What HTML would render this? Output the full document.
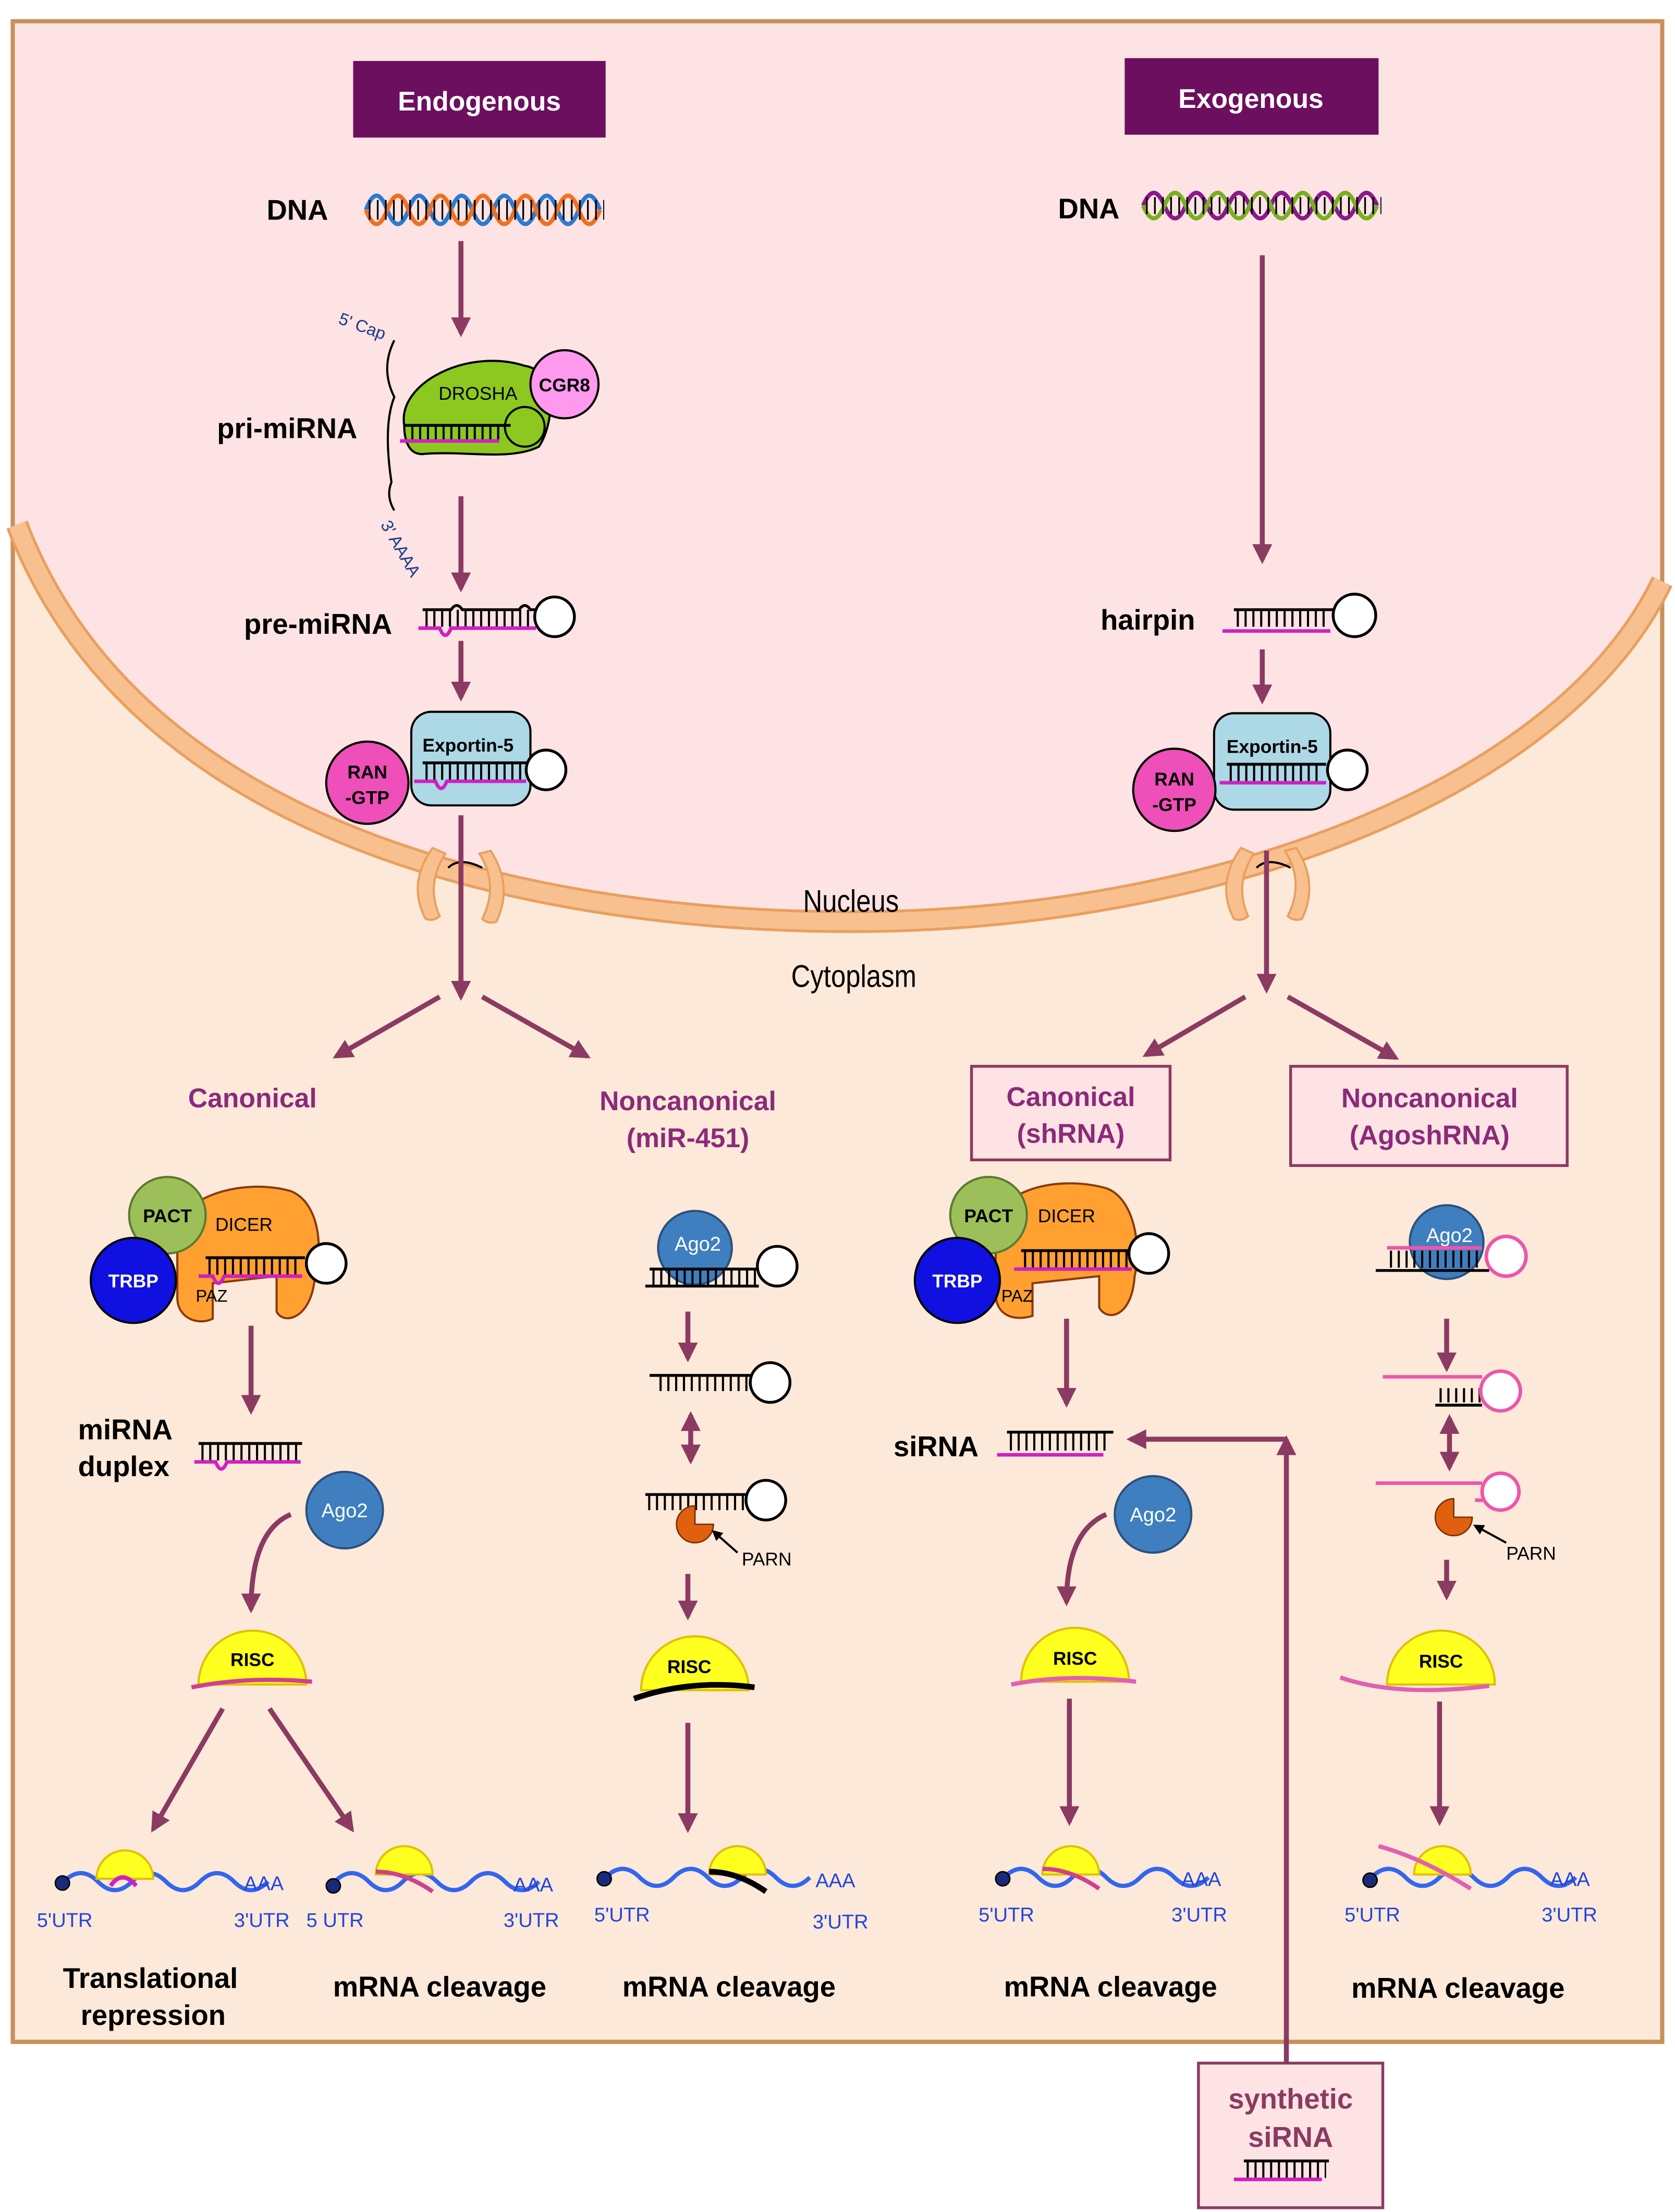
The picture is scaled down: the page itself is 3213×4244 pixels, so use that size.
<!DOCTYPE html>
<html><head><meta charset="utf-8"><style>
html,body{margin:0;padding:0;background:#fff}
svg{display:block}
text{font-family:"Liberation Sans",sans-serif}
</style></head><body>
<svg width="3213" height="4244" viewBox="0 0 1181 1560" xmlns="http://www.w3.org/2000/svg">
<defs>
<marker id="ah" viewBox="0 0 10 10" refX="8" refY="5" markerWidth="4" markerHeight="4" orient="auto-start-reverse"><path d="M0,0 L10,5 L0,10 z" fill="#8b3a62"/></marker>
<marker id="ahk" viewBox="0 0 10 10" refX="8" refY="5" markerWidth="5" markerHeight="5" orient="auto"><path d="M0,0 L10,5 L0,10 z" fill="#000"/></marker>
</defs>
<rect width="1181" height="1560" fill="#fff"/>
<rect x="9" y="15" width="1163" height="1425" fill="#fde9d9" stroke="#c8915a" stroke-width="3"/>
<path d="M10.5,16.5 H1170.5 V410 C1100,560 850,650 600,650 C400,650 100,600 10.5,370 Z" fill="#fde3e3"/>
<path d="M12,370 C100,600 400,650 600,650 C850,650 1100,560 1172,410" fill="none" stroke="#e8a060" stroke-width="16"/>
<path d="M12,370 C100,600 400,650 600,650 C850,650 1100,560 1172,410" fill="none" stroke="#f9c08f" stroke-width="12"/>
<g fill="#f9c08f" stroke="#e8a060" stroke-width="1.5">
<path d="M305,598 q-18,25 -5,50 q6,2 10,-2 q-10,-22 4,-44 z"/>
<path d="M338,602 q14,22 2,46 q4,4 10,2 q12,-25 -4,-50 z"/>
<path d="M875,598 q-18,25 -5,50 q6,2 10,-2 q-10,-22 4,-44 z"/>
<path d="M906,600 q14,22 2,46 q4,4 10,2 q12,-25 -4,-50 z"/>
</g>
<path d="M316,612 q8,-8 24,0 M886,612 q8,-8 24,0" stroke="#000" fill="none" stroke-width="1.5"/>
<text x="600" y="643" font-size="22" text-anchor="middle" transform="translate(600,0) scale(0.85,1) translate(-600,0)">Nucleus</text>
<text x="602" y="696" font-size="22" text-anchor="middle" transform="translate(602,0) scale(0.85,1) translate(-602,0)">Cytoplasm</text>

<rect x="249" y="43" width="178" height="54" fill="#6b0f5e"/>
<text x="338" y="78" font-size="19" font-weight="bold" fill="#fff" text-anchor="middle">Endogenous</text>
<rect x="793" y="41" width="179" height="54" fill="#6b0f5e"/>
<text x="882" y="76" font-size="19" font-weight="bold" fill="#fff" text-anchor="middle">Exogenous</text>

<text x="188" y="155" font-size="20" font-weight="bold">DNA</text>
<text x="746" y="154" font-size="20" font-weight="bold">DNA</text>
<path d="M258,148 q7.5,-20 15,0 t15,0 t15,0 t15,0 t15,0 t15,0 t15,0 t15,0 t15,0 t15,0 t15,0" fill="none" stroke="#2b7bd0" stroke-width="3"/>
<path d="M258,148 q7.5,20 15,0 t15,0 t15,0 t15,0 t15,0 t15,0 t15,0 t15,0 t15,0 t15,0 t15,0" fill="none" stroke="#f07020" stroke-width="3"/>
<line x1="260" y1="148" x2="426" y2="148" stroke="#000" stroke-width="14" stroke-dasharray="1.2 4.5"/>
<path d="M806,145 q7.5,-18 15,0 t15,0 t15,0 t15,0 t15,0 t15,0 t15,0 t15,0 t15,0 t15,0 t15,0" fill="none" stroke="#8a1a8a" stroke-width="3"/>
<path d="M806,145 q7.5,18 15,0 t15,0 t15,0 t15,0 t15,0 t15,0 t15,0 t15,0 t15,0 t15,0 t15,0" fill="none" stroke="#7ab020" stroke-width="3"/>
<line x1="808" y1="145" x2="974" y2="145" stroke="#000" stroke-width="12" stroke-dasharray="1.2 4.5"/>

<g stroke="#8b3a62" stroke-width="3.5" fill="none" marker-end="url(#ah)">
<line x1="325" y1="170" x2="325" y2="235"/>
<line x1="325" y1="350" x2="325" y2="415"/>
<line x1="325" y1="452" x2="325" y2="492"/>
<line x1="325" y1="575" x2="325" y2="703"/>
<line x1="310" y1="703" x2="237" y2="745"/>
<line x1="340" y1="703" x2="414" y2="745"/>
<line x1="890" y1="180" x2="890" y2="395"/>
<line x1="890" y1="458" x2="890" y2="494"/>
<line x1="893" y1="600" x2="893" y2="698"/>
<line x1="878" y1="703" x2="808" y2="744"/>
<line x1="908" y1="703" x2="984" y2="746"/>
<line x1="177" y1="935" x2="177" y2="995"/>
<path d="M205,1068 Q177,1080 177,1135"/>
<line x1="157" y1="1205" x2="108" y2="1290"/>
<line x1="190" y1="1205" x2="248" y2="1290"/>
<line x1="485" y1="925" x2="485" y2="958"/>
<line x1="485" y1="1110" x2="485" y2="1140"/>
<line x1="485" y1="1215" x2="485" y2="1290"/>
<line x1="752" y1="930" x2="752" y2="990"/>
<path d="M780,1068 Q752,1080 752,1130"/>
<line x1="754" y1="1198" x2="754" y2="1285"/>
<line x1="1020" y1="930" x2="1020" y2="965"/>
<line x1="1020" y1="1100" x2="1020" y2="1126"/>
<line x1="1015" y1="1200" x2="1015" y2="1285"/>
<line x1="907" y1="1460" x2="907" y2="1015"/>
<polyline points="907,1015 797,1015"/>
</g>
<g stroke="#8b3a62" stroke-width="3.5" marker-start="url(#ah)" marker-end="url(#ah)">
<line x1="487" y1="998" x2="487" y2="1030"/>
<line x1="1022" y1="1000" x2="1022" y2="1035"/>
</g>

<text x="153" y="309" font-size="20" font-weight="bold">pri-miRNA</text>
<text x="238" y="228" font-size="12" fill="#1a3a8a" transform="rotate(20 238 228)">5' Cap</text>
<text x="268" y="370" font-size="12" fill="#1a3a8a" transform="rotate(60 268 370)">3' AAAA</text>
<path d="M278,240 q-10,20 0,40 q-8,20 -2,60 q-4,10 2,20" fill="none" stroke="#000" stroke-width="1.5"/>
<path d="M285,300 C280,270 330,245 370,258 C395,262 390,300 380,315 C360,325 330,318 300,320 C288,322 285,310 285,300 Z" fill="#8cc820" stroke="#000" stroke-width="1.5"/>
<circle cx="370" cy="301" r="14" fill="#8cc820" stroke="#000" stroke-width="1.5"/>
<text x="337" y="282" font-size="13" text-anchor="middle">DROSHA</text>
<circle cx="398" cy="271" r="24" fill="#ff99ee" stroke="#000" stroke-width="1.5"/>
<text x="398" y="276" font-size="13" font-weight="bold" text-anchor="middle">CGR8</text>
<line x1="285" y1="300" x2="360" y2="300" stroke="#000" stroke-width="2"/>
<line x1="290" y1="305" x2="355" y2="305" stroke="#000" stroke-width="10" stroke-dasharray="1.5 4"/>
<line x1="282" y1="311" x2="352" y2="311" stroke="#d020c0" stroke-width="2.5"/>

<text x="172" y="447" font-size="20" font-weight="bold">pre-miRNA</text>
<path d="M298,430 h20 q4,-6 8,0 h40 q4,-6 8,0 h4" fill="none" stroke="#000" stroke-width="2"/>
<line x1="300" y1="436" x2="376" y2="436" stroke="#000" stroke-width="12" stroke-dasharray="1.5 4"/>
<path d="M295,443 h15 q4,10 8,0 h60" fill="none" stroke="#d020c0" stroke-width="2.5"/>
<circle cx="391" cy="435" r="14" fill="#fff" stroke="#000" stroke-width="2"/>
<text x="776" y="444" font-size="20" font-weight="bold">hairpin</text>
<line x1="870" y1="430" x2="940" y2="430" stroke="#000" stroke-width="2"/>
<line x1="872" y1="436" x2="938" y2="436" stroke="#000" stroke-width="12" stroke-dasharray="1.5 4"/>
<line x1="862" y1="445" x2="938" y2="445" stroke="#d020c0" stroke-width="2.5"/>
<circle cx="955" cy="434" r="15" fill="#fff" stroke="#000" stroke-width="2"/>

<rect x="290" y="502" width="84" height="66" rx="14" fill="#add8e6" stroke="#000" stroke-width="1.5"/>
<text x="330" y="530" font-size="13" font-weight="bold" text-anchor="middle">Exportin-5</text>
<circle cx="259" cy="552" r="29" fill="#ee4fb8" stroke="#000" stroke-width="1.5"/>
<text x="259" y="549" font-size="13" font-weight="bold" text-anchor="middle">RAN</text>
<text x="259" y="567" font-size="13" font-weight="bold" text-anchor="middle">-GTP</text>
<line x1="298" y1="538" x2="372" y2="538" stroke="#000" stroke-width="2"/>
<line x1="300" y1="544" x2="370" y2="544" stroke="#000" stroke-width="12" stroke-dasharray="1.5 4"/>
<path d="M292,551 h15 q4,10 8,0 h56" fill="none" stroke="#d020c0" stroke-width="2.5"/>
<circle cx="385" cy="543" r="14" fill="#fff" stroke="#000" stroke-width="2"/>
<rect x="856" y="503" width="82" height="68" rx="14" fill="#add8e6" stroke="#000" stroke-width="1.5"/>
<text x="897" y="531" font-size="13" font-weight="bold" text-anchor="middle">Exportin-5</text>
<circle cx="828" cy="557" r="29" fill="#ee4fb8" stroke="#000" stroke-width="1.5"/>
<text x="828" y="554" font-size="13" font-weight="bold" text-anchor="middle">RAN</text>
<text x="828" y="572" font-size="13" font-weight="bold" text-anchor="middle">-GTP</text>
<line x1="865" y1="539" x2="935" y2="539" stroke="#000" stroke-width="2"/>
<line x1="867" y1="545" x2="933" y2="545" stroke="#000" stroke-width="12" stroke-dasharray="1.5 4"/>
<line x1="860" y1="552" x2="935" y2="552" stroke="#d020c0" stroke-width="2.5"/>
<circle cx="950" cy="543" r="14" fill="#fff" stroke="#000" stroke-width="2"/>

<text x="178" y="781" font-size="19" font-weight="bold" fill="#8b2a7a" text-anchor="middle">Canonical</text>
<text x="485" y="783" font-size="19" font-weight="bold" fill="#8b2a7a" text-anchor="middle">Noncanonical</text>
<text x="485" y="809" font-size="19" font-weight="bold" fill="#8b2a7a" text-anchor="middle">(miR-451)</text>
<rect x="685" y="752" width="140" height="66" fill="#fde3e3" stroke="#8b3a62" stroke-width="2"/>
<text x="755" y="780" font-size="19" font-weight="bold" fill="#8b2a7a" text-anchor="middle">Canonical</text>
<text x="755" y="806" font-size="19" font-weight="bold" fill="#8b2a7a" text-anchor="middle">(shRNA)</text>
<rect x="910" y="752" width="195" height="70" fill="#fde3e3" stroke="#8b3a62" stroke-width="2"/>
<text x="1008" y="781" font-size="19" font-weight="bold" fill="#8b2a7a" text-anchor="middle">Noncanonical</text>
<text x="1008" y="807" font-size="19" font-weight="bold" fill="#8b2a7a" text-anchor="middle">(AgoshRNA)</text>

<path d="M125,875 C120,845 170,830 205,840 C225,848 228,880 222,900 C220,930 200,935 195,925 L195,900 L150,905 L150,930 C140,935 125,930 125,915 Z" fill="#ffa030" stroke="#8b3a10" stroke-width="1.5"/>
<text x="172" y="868" font-size="13" text-anchor="middle">DICER</text>
<text x="138" y="918" font-size="12">PAZ</text>
<circle cx="118" cy="857" r="27" fill="#9cbf5a" stroke="#5a7a30" stroke-width="1.5"/>
<text x="118" y="862" font-size="13" font-weight="bold" text-anchor="middle">PACT</text>
<circle cx="94" cy="903" r="30" fill="#1010e0" stroke="#000" stroke-width="1.5"/>
<text x="94" y="908" font-size="13" font-weight="bold" fill="#fff" text-anchor="middle">TRBP</text>
<line x1="145" y1="887" x2="215" y2="887" stroke="#000" stroke-width="2"/>
<line x1="147" y1="893" x2="213" y2="893" stroke="#000" stroke-width="12" stroke-dasharray="1.5 4"/>
<path d="M140,900 h10 q4,10 8,0 h55" fill="none" stroke="#d020c0" stroke-width="2.5"/>
<circle cx="230" cy="891" r="14" fill="#fff" stroke="#000" stroke-width="2"/>
<path d="M702,870 C698,840 745,828 780,838 C800,845 805,880 800,900 C798,930 780,932 775,922 L775,900 L728,905 L728,928 C715,932 702,928 702,912 Z" fill="#ffa030" stroke="#8b3a10" stroke-width="1.5"/>
<text x="752" y="862" font-size="13" text-anchor="middle">DICER</text>
<text x="706" y="918" font-size="12">PAZ</text>
<circle cx="697" cy="857" r="27" fill="#9cbf5a" stroke="#5a7a30" stroke-width="1.5"/>
<text x="697" y="862" font-size="13" font-weight="bold" text-anchor="middle">PACT</text>
<circle cx="675" cy="903" r="30" fill="#1010e0" stroke="#000" stroke-width="1.5"/>
<text x="675" y="908" font-size="13" font-weight="bold" fill="#fff" text-anchor="middle">TRBP</text>
<line x1="720" y1="882" x2="798" y2="882" stroke="#000" stroke-width="2"/>
<line x1="722" y1="888" x2="796" y2="888" stroke="#000" stroke-width="12" stroke-dasharray="1.5 4"/>
<line x1="715" y1="895" x2="798" y2="895" stroke="#d020c0" stroke-width="2.5"/>
<circle cx="810" cy="884" r="14" fill="#fff" stroke="#000" stroke-width="2"/>

<text x="55" y="1015" font-size="20" font-weight="bold">miRNA</text>
<text x="55" y="1041" font-size="20" font-weight="bold">duplex</text>
<line x1="140" y1="1018" x2="213" y2="1018" stroke="#000" stroke-width="2"/>
<line x1="142" y1="1024" x2="211" y2="1024" stroke="#000" stroke-width="12" stroke-dasharray="1.5 4"/>
<path d="M137,1031 h15 q4,10 8,0 h52" fill="none" stroke="#d020c0" stroke-width="2.5"/>
<circle cx="243" cy="1065" r="27" fill="#3f7fbf" stroke="#2a5080" stroke-width="1.5"/>
<text x="243" y="1070" font-size="14" fill="#fff" text-anchor="middle">Ago2</text>
<text x="630" y="1027" font-size="20" font-weight="bold">siRNA</text>
<line x1="710" y1="1010" x2="785" y2="1010" stroke="#000" stroke-width="2"/>
<line x1="712" y1="1017" x2="783" y2="1017" stroke="#000" stroke-width="12" stroke-dasharray="1.5 4"/>
<line x1="703" y1="1026" x2="778" y2="1026" stroke="#d020c0" stroke-width="2.5"/>
<circle cx="813" cy="1068" r="27" fill="#3f7fbf" stroke="#2a5080" stroke-width="1.5"/>
<text x="813" y="1073" font-size="14" fill="#fff" text-anchor="middle">Ago2</text>

<circle cx="490" cy="880" r="26" fill="#3f7fbf" stroke="#2a5080" stroke-width="1.5"/>
<text x="492" y="882" font-size="14" fill="#fff" text-anchor="middle">Ago2</text>
<line x1="458" y1="895" x2="535" y2="895" stroke="#000" stroke-width="2"/>
<line x1="460" y1="901" x2="533" y2="901" stroke="#000" stroke-width="12" stroke-dasharray="1.5 4"/>
<line x1="455" y1="907" x2="535" y2="907" stroke="#000" stroke-width="2"/>
<circle cx="548" cy="893" r="14" fill="#fff" stroke="#000" stroke-width="2"/>
<line x1="458" y1="970" x2="530" y2="970" stroke="#000" stroke-width="2"/>
<line x1="465" y1="976" x2="528" y2="976" stroke="#000" stroke-width="10" stroke-dasharray="1.5 4"/>
<circle cx="543" cy="975" r="14" fill="#fff" stroke="#000" stroke-width="2"/>
<line x1="455" y1="1054" x2="530" y2="1054" stroke="#000" stroke-width="2"/>
<line x1="457" y1="1060" x2="528" y2="1060" stroke="#000" stroke-width="10" stroke-dasharray="1.5 4"/>
<circle cx="540" cy="1058" r="14" fill="#fff" stroke="#000" stroke-width="2"/>
<path d="M490,1075 L490,1062 A13,13 0 1,0 503,1075 Z" fill="#e06010" stroke="#7a3000"/>
<line x1="520" y1="1095" x2="503" y2="1080" stroke="#000" stroke-width="1.5" marker-end="url(#ahk)"/>
<text x="523" y="1104" font-size="13">PARN</text>

<circle cx="1020" cy="876" r="26" fill="#3f7fbf" stroke="#2a5080" stroke-width="1.5"/>
<text x="1022" y="876" font-size="14" fill="#fff" text-anchor="middle">Ago2</text>
<line x1="978" y1="880" x2="1045" y2="880" stroke="#ee55aa" stroke-width="2.5"/>
<line x1="980" y1="888" x2="1043" y2="888" stroke="#000" stroke-width="12" stroke-dasharray="1.5 4"/>
<line x1="970" y1="896" x2="1050" y2="896" stroke="#000" stroke-width="2"/>
<circle cx="1062" cy="886" r="14" fill="#fff" stroke="#ee55aa" stroke-width="2.5"/>
<line x1="975" y1="971" x2="1045" y2="971" stroke="#ee55aa" stroke-width="2.5"/>
<line x1="1015" y1="984" x2="1045" y2="984" stroke="#000" stroke-width="10" stroke-dasharray="1.5 4"/>
<line x1="1012" y1="991" x2="1045" y2="991" stroke="#000" stroke-width="2"/>
<circle cx="1058" cy="981" r="14" fill="#fff" stroke="#ee55aa" stroke-width="2.5"/>
<line x1="970" y1="1046" x2="1045" y2="1046" stroke="#ee55aa" stroke-width="2.5"/>
<line x1="1040" y1="1058" x2="1048" y2="1058" stroke="#ee55aa" stroke-width="2.5"/>
<circle cx="1058" cy="1052" r="13" fill="#fff" stroke="#ee55aa" stroke-width="2.5"/>
<path d="M1025,1070 L1025,1057 A13,13 0 1,0 1038,1070 Z" fill="#e06010" stroke="#7a3000"/>
<line x1="1062" y1="1088" x2="1040" y2="1076" stroke="#000" stroke-width="1.5" marker-end="url(#ahk)"/>
<text x="1062" y="1100" font-size="13">PARN</text>

<g stroke="#e0c000" stroke-width="1.5" fill="#ffff20">
<path d="M140,1188 a38,38 0 0,1 76,0 z"/>
<path d="M452,1192 a38,38 0 0,1 76,0 z"/>
<path d="M720,1186 a38,38 0 0,1 76,0 z"/>
<path d="M978,1188 a38,38 0 0,1 76,0 z"/>
</g>
<g font-size="13" font-weight="bold" text-anchor="middle">
<text x="178" y="1175">RISC</text><text x="486" y="1180">RISC</text><text x="758" y="1174">RISC</text><text x="1016" y="1176">RISC</text>
</g>
<path d="M135,1190 q40,-8 85,-4" fill="none" stroke="#d04090" stroke-width="3"/>
<path d="M447,1198 q40,-14 85,-8" fill="none" stroke="#000" stroke-width="4"/>
<path d="M713,1188 q40,-8 88,-2" fill="none" stroke="#e060b0" stroke-width="3"/>
<path d="M945,1183 q40,14 105,6" fill="none" stroke="#e060b0" stroke-width="3"/>

<g fill="none" stroke="#3366ee" stroke-width="3">
<path d="M45,1327 q12,-12 24,0 t24,0 t24,0 t24,0 t24,0 t24,0"/>
<path d="M236,1327 q12,-12 24,0 t24,0 t24,0 t24,0 t24,0 t24,0"/>
<path d="M427,1324 q12,-12 24,0 t24,0 t24,0 t24,0 t24,0 t24,0"/>
<path d="M708,1324 q12,-12 24,0 t24,0 t24,0 t24,0 t24,0 t24,0"/>
<path d="M967,1324 q12,-12 24,0 t24,0 t24,0 t24,0 t24,0 t24,0"/>
</g>
<g fill="#1a2a7a" stroke="#000"><circle cx="44" cy="1328" r="5"/><circle cx="235" cy="1330" r="5"/><circle cx="426" cy="1325" r="5"/><circle cx="707" cy="1325" r="5"/><circle cx="966" cy="1326" r="5"/></g>
<g stroke="#e0c000" stroke-width="1.5" fill="#ffff20">
<path d="M68,1325 a20,20 0 0,1 40,0 z"/>
<path d="M265,1322 a20,20 0 0,1 40,0 z"/>
<path d="M500,1322 a20,20 0 0,1 40,0 z"/>
<path d="M735,1322 a20,20 0 0,1 40,0 z"/>
<path d="M997,1322 a20,20 0 0,1 40,0 z"/>
</g>
<path d="M78,1330 q8,-12 18,0" fill="none" stroke="#d020c0" stroke-width="3"/>
<path d="M265,1320 q20,0 40,14" fill="none" stroke="#d04090" stroke-width="3"/>
<path d="M500,1320 q20,0 40,14" fill="none" stroke="#000" stroke-width="4"/>
<path d="M735,1318 q20,0 40,14" fill="none" stroke="#d04090" stroke-width="3"/>
<path d="M972,1302 q30,8 65,30" fill="none" stroke="#e060b0" stroke-width="3"/>
<g fill="#2244dd" font-size="14">
<text x="172" y="1333">AAA</text><text x="362" y="1334">AAA</text><text x="575" y="1331">AAA</text><text x="833" y="1330">AAA</text><text x="1093" y="1330">AAA</text>
<text x="26" y="1359">5'UTR</text><text x="165" y="1359">3'UTR</text>
<text x="216" y="1359">5 UTR</text><text x="355" y="1359">3'UTR</text>
<text x="419" y="1355">5'UTR</text><text x="573" y="1360">3'UTR</text>
<text x="690" y="1355">5'UTR</text><text x="826" y="1355">3'UTR</text>
<text x="948" y="1355">5'UTR</text><text x="1087" y="1355">3'UTR</text>
</g>
<g font-size="20" font-weight="bold" text-anchor="middle">
<text x="106" y="1402">Translational</text><text x="108" y="1428">repression</text>
<text x="310" y="1408">mRNA cleavage</text>
<text x="514" y="1408">mRNA cleavage</text>
<text x="783" y="1408">mRNA cleavage</text>
<text x="1028" y="1409">mRNA cleavage</text>
</g>

<rect x="845" y="1455" width="130" height="102" fill="#fde3e3" stroke="#8b3a62" stroke-width="2"/>
<text x="910" y="1487" font-size="20" font-weight="bold" fill="#8b3a62" text-anchor="middle">synthetic</text>
<text x="910" y="1514" font-size="20" font-weight="bold" fill="#8b3a62" text-anchor="middle">siRNA</text>
<line x1="877" y1="1524" x2="937" y2="1524" stroke="#000" stroke-width="2"/>
<line x1="879" y1="1530" x2="935" y2="1530" stroke="#000" stroke-width="12" stroke-dasharray="1.5 4"/>
<line x1="870" y1="1537" x2="932" y2="1537" stroke="#d020c0" stroke-width="2.5"/>
</svg>
</body></html>
